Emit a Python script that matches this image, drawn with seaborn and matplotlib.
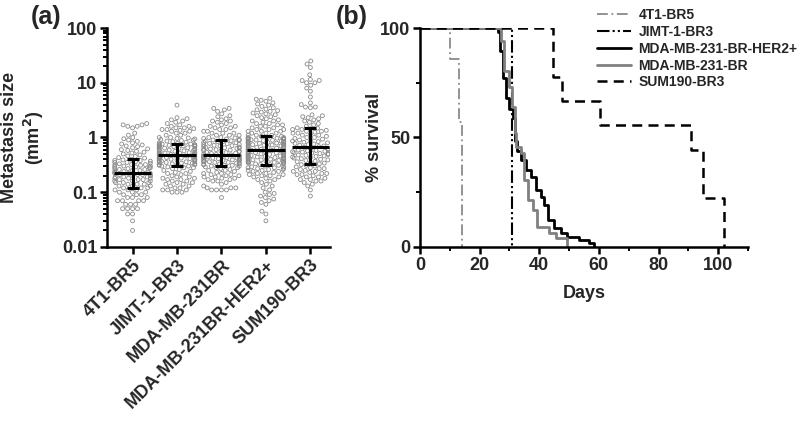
import numpy as np
import pandas as pd
import seaborn as sns
import matplotlib.pyplot as plt

# ---- panel (a): metastasis size per cell line (mm^2) ----
groups = ['4T1-BR5', 'JIMT-1-BR3', 'MDA-MB-231BR', 'MDA-MB-231BR-HER2+', 'SUM190-BR3']

size_4t1 = [0.02, 0.03, 0.04, 0.04, 0.05, 0.05, 0.05, 0.05, 0.06, 0.06, 0.06, 0.07, 0.07, 0.07, 0.07,
            0.08, 0.08, 0.08, 0.09, 0.09, 0.09, 0.10, 0.10, 0.10, 0.11, 0.11, 0.11, 0.12, 0.12, 0.12,
            0.13, 0.13, 0.13, 0.14, 0.14, 0.14, 0.15, 0.15, 0.15, 0.16, 0.16, 0.16, 0.17, 0.17, 0.17,
            0.18, 0.18, 0.18, 0.19, 0.19, 0.19, 0.20, 0.20, 0.20, 0.21, 0.21, 0.21, 0.22, 0.22, 0.22,
            0.23, 0.23, 0.24, 0.24, 0.25, 0.25, 0.26, 0.26, 0.27, 0.27, 0.28, 0.28, 0.29, 0.29, 0.30,
            0.30, 0.31, 0.31, 0.32, 0.32, 0.33, 0.34, 0.35, 0.35, 0.36, 0.37, 0.38, 0.38, 0.39, 0.40,
            0.42, 0.43, 0.45, 0.46, 0.48, 0.50, 0.52, 0.54, 0.56, 0.58, 0.60, 0.62, 0.65, 0.68, 0.70,
            0.73, 0.76, 0.80, 0.85, 0.90, 0.95, 1.0, 1.1, 1.2, 1.5, 1.6, 1.6, 1.7, 1.7, 1.8]
size_jimt = [0.10, 0.10, 0.10, 0.11, 0.11, 0.11, 0.12, 0.12, 0.13, 0.13, 0.14, 0.14, 0.15, 0.15, 0.16,
             0.16, 0.17, 0.17, 0.18, 0.18, 0.19, 0.19, 0.20, 0.21, 0.22, 0.22, 0.23, 0.24, 0.25, 0.26,
             0.27, 0.28, 0.28, 0.29, 0.30,
             0.30, 0.31, 0.31, 0.32, 0.32, 0.33, 0.33, 0.34, 0.34, 0.35, 0.35, 0.36, 0.36, 0.37, 0.37,
             0.38, 0.38, 0.39, 0.39, 0.40, 0.40, 0.41, 0.41, 0.42, 0.42, 0.43, 0.43, 0.44, 0.44, 0.45,
             0.45, 0.46, 0.46, 0.47, 0.48,
             0.49, 0.49, 0.50, 0.50, 0.51, 0.52, 0.52, 0.53, 0.54, 0.55, 0.56, 0.57, 0.58, 0.58, 0.59,
             0.60, 0.61, 0.62, 0.63, 0.64, 0.65, 0.66, 0.67, 0.68, 0.69, 0.70, 0.70, 0.71, 0.72, 0.73,
             0.74, 0.74, 0.75, 0.76, 0.76,
             0.78, 0.80, 0.82, 0.84, 0.86, 0.88, 0.90, 0.92, 0.94, 0.96, 0.98, 1.0, 1.0, 1.1, 1.1,
             1.2, 1.2, 1.3, 1.3, 1.35, 1.4, 1.4, 1.45, 1.5, 1.5, 1.6, 1.6, 1.7, 1.8, 1.9,
             2.0, 2.1, 2.2, 2.3, 3.9]
size_231 = [0.08, 0.11, 0.11, 0.11, 0.11, 0.12, 0.12, 0.12, 0.13, 0.14, 0.15, 0.16, 0.16, 0.17, 0.17,
            0.18, 0.18, 0.19, 0.19, 0.20, 0.20, 0.21, 0.21, 0.22, 0.22, 0.23, 0.24, 0.25, 0.25, 0.26,
            0.27, 0.28, 0.28, 0.29, 0.30,
            0.30, 0.31, 0.31, 0.32, 0.32, 0.33, 0.33, 0.34, 0.34, 0.35, 0.35, 0.36, 0.36, 0.37, 0.37,
            0.38, 0.38, 0.39, 0.39, 0.40, 0.40, 0.41, 0.41, 0.42, 0.42, 0.43, 0.43, 0.44, 0.44, 0.45,
            0.45, 0.46, 0.46, 0.47, 0.47,
            0.48, 0.49, 0.50, 0.51, 0.52, 0.53, 0.54, 0.55, 0.56, 0.57, 0.58, 0.59, 0.60, 0.61, 0.62,
            0.63, 0.64, 0.65, 0.66, 0.67, 0.68, 0.70, 0.71, 0.72, 0.74, 0.75, 0.77, 0.78, 0.80, 0.81,
            0.83, 0.84, 0.86, 0.87, 0.89,
            0.90, 0.92, 0.94, 0.96, 0.98, 1.0, 1.0, 1.1, 1.1, 1.1, 1.2, 1.2, 1.2, 1.3, 1.3,
            1.4, 1.4, 1.5, 1.5, 1.6, 1.6, 1.7, 1.8, 1.9, 2.0, 2.0, 2.1, 2.2, 2.4, 2.5,
            2.7, 3.0, 3.2, 3.4, 3.4]
size_her2 = [0.03, 0.04, 0.045, 0.06, 0.065, 0.07, 0.075, 0.08, 0.085, 0.09, 0.095, 0.10, 0.11, 0.12, 0.13,
             0.14, 0.15, 0.16, 0.17, 0.17, 0.18, 0.19, 0.19, 0.20, 0.20, 0.21, 0.21, 0.22, 0.22, 0.23,
             0.24, 0.24, 0.25, 0.25, 0.26, 0.26, 0.27, 0.27, 0.28, 0.28, 0.29, 0.29, 0.30, 0.31, 0.32,
             0.32, 0.33, 0.33, 0.34, 0.34, 0.35, 0.35, 0.36, 0.36, 0.37, 0.37, 0.38, 0.38, 0.39, 0.39,
             0.40, 0.40, 0.41, 0.41, 0.42, 0.43, 0.43, 0.44, 0.44, 0.45, 0.45, 0.46, 0.47, 0.47, 0.48,
             0.48, 0.49, 0.50, 0.50, 0.51, 0.52, 0.52, 0.53, 0.54, 0.54, 0.55, 0.56, 0.56, 0.57, 0.58,
             0.59, 0.60, 0.61, 0.62, 0.63, 0.64, 0.65, 0.66, 0.67, 0.68, 0.69, 0.70, 0.71, 0.72, 0.73,
             0.74, 0.75, 0.76, 0.77, 0.78, 0.79, 0.80, 0.81, 0.82, 0.83, 0.84, 0.85, 0.86, 0.87, 0.88,
             0.89, 0.90, 0.91, 0.92, 0.93, 0.94, 0.95, 0.96, 0.97, 0.98, 0.99, 1.0, 1.0, 1.05, 1.05,
             1.1, 1.1, 1.1, 1.2, 1.2, 1.2, 1.3, 1.3, 1.3, 1.4, 1.4, 1.4, 1.5, 1.5, 1.6,
             1.6, 1.7, 1.7, 1.8, 1.8, 1.9, 2.0, 2.0, 2.1, 2.2, 2.3, 2.4, 2.5, 2.6, 2.7,
             2.8, 2.9, 3.0, 3.1, 3.2, 3.3, 3.5, 3.7, 3.9, 4.1, 4.3, 4.6, 4.8, 5.0, 5.2]
size_sum = [0.085, 0.11, 0.13, 0.14, 0.15, 0.16, 0.16, 0.17, 0.17, 0.18, 0.19, 0.19, 0.20, 0.21, 0.21,
            0.22, 0.22, 0.23, 0.24, 0.24, 0.25, 0.26, 0.27, 0.27, 0.28, 0.29, 0.30, 0.31, 0.32, 0.33,
            0.34, 0.35, 0.36, 0.37, 0.38, 0.39, 0.40, 0.41, 0.42, 0.43, 0.44, 0.45, 0.46, 0.47, 0.48,
            0.49, 0.50, 0.51, 0.52, 0.53, 0.54, 0.55, 0.56, 0.57, 0.58, 0.59, 0.60, 0.62, 0.64, 0.66,
            0.68, 0.70, 0.72, 0.74, 0.76, 0.78, 0.80, 0.82, 0.84, 0.86, 0.88, 0.90, 0.93, 0.96, 1.0,
            1.0, 1.05, 1.1, 1.1, 1.15, 1.2, 1.2, 1.25, 1.3, 1.3, 1.35, 1.4, 1.4, 1.45, 1.48,
            1.5, 1.6, 1.7, 1.8, 1.9, 2.0, 2.1, 2.2, 2.3, 2.4, 2.5, 2.6, 3.5, 3.6, 3.6,
            4.0, 4.3, 5.5, 7.0, 8.0, 9.0, 10.0, 10.0, 11.0, 11.0, 11.5, 14.0, 19.0, 22.0, 25.0]

# median and interquartile range bars as drawn
medians = [0.22, 0.48, 0.47, 0.58, 0.66]
q1 = [0.12, 0.30, 0.30, 0.32, 0.33]
q3 = [0.40, 0.76, 0.89, 1.06, 1.48]

# ---- panel (b): Kaplan-Meier steps (day, % survival) ----
surv_labels = ['4T1-BR5', 'JIMT-1-BR3', 'MDA-MB-231-BR-HER2+', 'MDA-MB-231-BR', 'SUM190-BR3']
days_4t1 = [0, 10, 13, 14]
pct_4t1 = [100, 85.7, 57.1, 0]
days_jimt = [0, 31]
pct_jimt = [100, 0]
days_her2 = [0, 26, 26.9, 27.8, 28.9, 30, 31.1, 31.7, 32.4, 33.9, 35.6, 37.2, 38.9, 40.5, 41.7, 42.8,
             45, 47.2, 49.4, 53.3, 56.7, 58.5]
pct_her2 = [100, 98, 89.5, 77, 68, 63, 59, 48.6, 44, 39.5, 35, 32, 26, 23, 19, 12.3,
            8.6, 6.3, 4.7, 3.2, 2, 0]
days_231 = [0, 27.2, 28.3, 30, 31, 31.7, 32.2, 33.9, 35, 36.1, 37.8, 39.4, 43.3, 45.6, 49.4]
pct_231 = [100, 94, 80.5, 73, 64, 52, 45.6, 42.7, 30.5, 21.4, 16.8, 9.2, 6.3, 4, 0]
days_sum = [0, 44.5, 47.5, 60.5, 91, 95, 102]
pct_sum = [100, 77.8, 66.7, 55.6, 44.4, 22.2, 0]

# ------------------------------------------------------------------
sns.set_style('ticks')
plt.rcParams['font.family'] = ['Liberation Sans', 'DejaVu Sans']
plt.rcParams['font.weight'] = 'bold'
plt.rcParams['axes.labelweight'] = 'bold'

fig = plt.figure(figsize=(8, 4.25), dpi=100)
ax1 = fig.add_axes([0.134, 0.419, 0.279, 0.515])
ax2 = fig.add_axes([0.525, 0.419, 0.41, 0.515])

# panel (a)
all_sizes = [size_4t1, size_jimt, size_231, size_her2, size_sum]
df_a = pd.DataFrame({
    'line': np.repeat(groups, [len(v) for v in all_sizes]),
    'size': np.concatenate(all_sizes),
})
ax1.set_yscale('log')
ax1.set_ylim(0.01, 100)
sns.swarmplot(data=df_a, x='line', y='size', order=groups, ax=ax1,
              size=2.8, color='#9a9a9a', linewidth=0.6, edgecolor='#8c8c8c', warn_thresh=1)
for coll in ax1.collections:
    coll.set_facecolor('none')
    coll.set_edgecolor('#8a8a8a')

xs = np.arange(len(groups))
ax1.hlines(medians, xs - 0.42, xs + 0.42, color='black', lw=2.2, zorder=5)
ax1.errorbar(xs, medians,
             yerr=[np.array(medians) - np.array(q1), np.array(q3) - np.array(medians)],
             fmt='none', ecolor='black', elinewidth=2.2, capsize=4, capthick=2.2, zorder=5)
ax1.set_xlim(-0.57, 4.45)
ax1.set_ylim(0.01, 100)
ax1.set_yticks([0.01, 0.1, 1, 10, 100])
ax1.set_yticklabels(['0.01', '0.1', '1', '10', '100'])
ax1.set_xlabel('')
ax1.set_ylabel('Metastasis size\n(mm$^\\mathbf{2}$)', fontsize=13, fontweight='bold')
ax1.yaxis.set_label_coords(-0.275, 0.5)
ax1.set_xticks(xs)
ax1.set_xticklabels(groups, rotation=45, ha='right', rotation_mode='anchor')

# panel (b)
surv_days = [days_4t1, days_jimt, days_her2, days_231, days_sum]
surv_pcts = [pct_4t1, pct_jimt, pct_her2, pct_231, pct_sum]
df_b = pd.DataFrame({
    'line': np.repeat(surv_labels, [len(d) for d in surv_days]),
    'day': np.concatenate(surv_days),
    'pct': np.concatenate(surv_pcts),
})
palette = {'4T1-BR5': '#8a8a8a', 'JIMT-1-BR3': 'black', 'MDA-MB-231-BR-HER2+': 'black',
           'MDA-MB-231-BR': '#808080', 'SUM190-BR3': 'black'}
dashes = {'4T1-BR5': (6, 2, 1, 2), 'JIMT-1-BR3': (6, 1.5, 1, 1.5, 1, 1.5), 'MDA-MB-231-BR-HER2+': '',
          'MDA-MB-231-BR': '', 'SUM190-BR3': (4, 2.5)}
sns.lineplot(data=df_b, x='day', y='pct', hue='line', style='line', hue_order=surv_labels,
             style_order=surv_labels, palette=palette, dashes=dashes, drawstyle='steps-post',
             estimator=None, sort=False, legend=False, ax=ax2)
widths = [1.3, 1.5, 2.0, 2.0, 1.8]
for ln, w in zip(ax2.lines, widths):
    ln.set_linewidth(w)
ax2.set_xlim(0, 110)
ax2.set_ylim(0, 100)
ax2.set_xticks([0, 20, 40, 60, 80, 100])
ax2.set_xticks([10, 30, 50, 70, 90, 110], minor=True)
ax2.set_yticks([0, 50, 100])
ax2.set_yticks([25, 75], minor=True)
ax2.set_xlabel('Days', fontsize=13, fontweight='bold', labelpad=8)
ax2.set_ylabel('% survival', fontsize=13, fontweight='bold')
ax2.yaxis.set_label_coords(-0.112, 0.5)

fig.legend(handles=ax2.lines[:5], labels=surv_labels, loc='upper left',
           bbox_to_anchor=(0.738, 0.997), frameon=False,
           handlelength=2.4, handletextpad=0.55, labelspacing=0.2, borderpad=0,
           prop={'weight': 'bold', 'size': 10})

for ax in (ax1, ax2):
    sns.despine(ax=ax)
    for s in ('left', 'bottom'):
        ax.spines[s].set_linewidth(1.8)
        ax.spines[s].set_color('black')
    ax.tick_params(which='major', length=5, width=1.8, labelsize=13, color='black', pad=2)
    ax.tick_params(which='minor', length=3, width=1.4, color='black')
    for t in ax.get_xticklabels() + ax.get_yticklabels():
        t.set_fontweight('bold')

fig.text(0.038, 0.96, '(a)', fontsize=18, fontweight='bold', va='center')
fig.text(0.42, 0.96, '(b)', fontsize=18, fontweight='bold', va='center')

fig.savefig('out.png', dpi=100)
